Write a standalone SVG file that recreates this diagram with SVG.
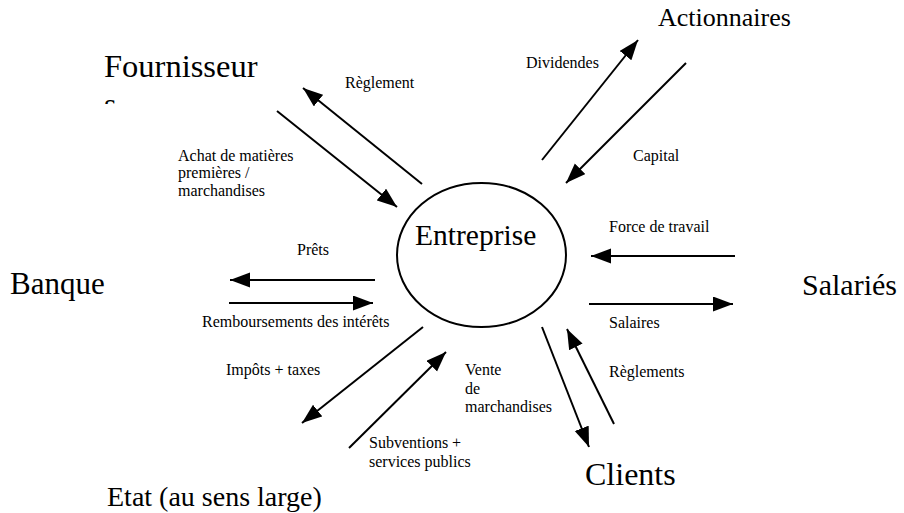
<svg xmlns="http://www.w3.org/2000/svg" width="904" height="513" viewBox="0 0 904 513">
<style>
text{font-family:"Liberation Serif","Times New Roman",serif;fill:#000}
.big{font-size:31px}
.sm{font-size:16px}
.arr{stroke:#000;stroke-width:2;fill:none;marker-end:url(#ah)}
</style>
<defs>
<marker id="ah" markerUnits="userSpaceOnUse" markerWidth="22" markerHeight="16" refX="20" refY="7.5" orient="auto">
<path d="M0,0 L20,7.5 L0,15 Z" fill="#000"/>
</marker>
<clipPath id="cut"><rect x="100" y="95" width="30" height="9"/></clipPath>
</defs>
<rect width="904" height="513" fill="#fff"/>
<g id="entreprise">
<ellipse cx="481.5" cy="255" rx="84.5" ry="72" fill="none" stroke="#000" stroke-width="2"/>
<text x="415" y="245" font-size="29.5">Entreprise</text>
</g>
<g id="fournisseur">
<text x="104" y="77" font-size="32.5">Fournisseur</text>
<text x="104" y="115" font-size="32" clip-path="url(#cut)">s</text>
</g>
<g id="actionnaires"><text x="658" y="26" font-size="26">Actionnaires</text></g>
<g id="banque"><text class="big" x="10" y="294">Banque</text></g>
<g id="salaries"><text x="802" y="295" font-size="30">Salariés</text></g>
<g id="clients"><text x="585" y="485" font-size="32">Clients</text></g>
<g id="etat"><text x="107" y="506" font-size="28">Etat (au sens large)</text></g>
<g id="connectors">
<line class="arr" x1="422" y1="184" x2="303" y2="88"/>
<line class="arr" x1="277" y1="111" x2="397" y2="207"/>
<line class="arr" x1="542" y1="160" x2="638" y2="40"/>
<line class="arr" x1="686" y1="63" x2="566" y2="183"/>
<line class="arr" x1="375" y1="280" x2="230" y2="280"/>
<line class="arr" x1="229" y1="303" x2="373" y2="303"/>
<line class="arr" x1="735" y1="256" x2="591" y2="256"/>
<line class="arr" x1="589" y1="304" x2="733" y2="304"/>
<line class="arr" x1="423" y1="327" x2="302" y2="423"/>
<line class="arr" x1="349" y1="448" x2="446" y2="352"/>
<line class="arr" x1="542" y1="327" x2="589" y2="447"/>
<line class="arr" x1="614" y1="424" x2="567" y2="329"/>
</g>
<g id="labels">
<text class="sm" x="345" y="88">Règlement</text>
<text class="sm" x="178" y="161">Achat de matières</text>
<text class="sm" x="178" y="178">premières /</text>
<text class="sm" x="178" y="196">marchandises</text>
<text class="sm" x="526" y="68">Dividendes</text>
<text class="sm" x="633" y="161">Capital</text>
<text class="sm" x="297" y="255">Prêts</text>
<text class="sm" x="202" y="327">Remboursements des intérêts</text>
<text class="sm" x="609" y="232">Force de travail</text>
<text class="sm" x="609" y="328">Salaires</text>
<text class="sm" x="609" y="377">Règlements</text>
<text class="sm" x="226" y="375">Impôts + taxes</text>
<text class="sm" x="465" y="375">Vente</text>
<text class="sm" x="465" y="394">de</text>
<text class="sm" x="465" y="412">marchandises</text>
<text class="sm" x="369" y="448">Subventions +</text>
<text class="sm" x="369" y="467">services publics</text>
</g>
</svg>
